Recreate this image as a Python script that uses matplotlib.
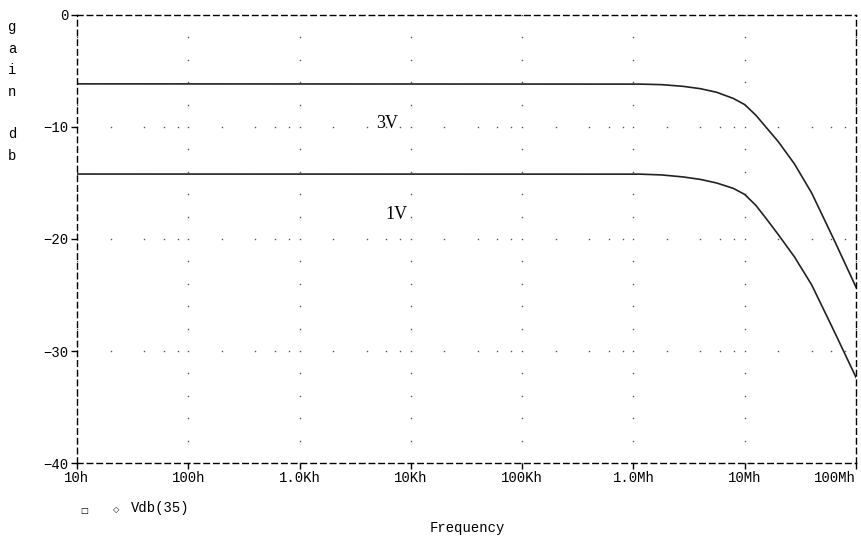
import matplotlib.pyplot as plt
import numpy as np

# frequency points (Hz) and gain in dB
freq = [10, 1.15e6, 1.8e6, 2.8e6, 4e6, 5.6e6, 7.9e6, 1e7, 1.26e7, 1.58e7,
        2e7, 2.8e7, 4e7, 6.3e7, 1e8]
gain_3v = [-6.15, -6.17, -6.22, -6.37, -6.58, -6.9, -7.45, -8.0, -8.95, -10.1,
           -11.3, -13.3, -15.9, -20.0, -24.3]
gain_1v = [-14.2, -14.21, -14.28, -14.46, -14.68, -15.0, -15.48, -16.02, -17.0, -18.25,
           -19.6, -21.6, -24.1, -28.15, -32.35]

xticks = [10, 100, 1e3, 1e4, 1e5, 1e6, 1e7, 1e8]
xticklabels = ['10h', '100h', '1.0Kh', '10Kh', '100Kh', '1.0Mh', '10Mh', '100Mh']
yticks = [0, -10, -20, -30, -40]

mono = 'Liberation Mono'

fig = plt.figure(figsize=(8.62, 5.47), dpi=100)
ax = fig.add_axes([77 / 862, 1 - 463 / 547, 779 / 862, 448 / 547])
ax.set_xscale('log')
ax.set_xlim(10, 1e8)
ax.set_ylim(-40, 0)

# dotted grid, PSpice style
gx, gy = [], []
for d in xticks:
    for yv in np.arange(-40, 1, 2):
        gx.append(d)
        gy.append(yv)
for yv in [-10, -20, -30]:
    for d in xticks[:-1]:
        for m in [2, 4, 6, 8]:
            gx.append(d * m)
            gy.append(yv)
ax.plot(gx, gy, ls='none', marker='s', ms=1.0, mew=0, color='#555555')

ax.plot(freq, gain_3v, color='#222222', lw=1.2)
ax.plot(freq, gain_1v, color='#222222', lw=1.2)

ax.text(6.1e3, -9.7, '3V', family='Liberation Serif', fontsize=13, ha='center', va='center')
ax.text(7.5e3, -17.8, '1V', family='Liberation Serif', fontsize=13, ha='center', va='center')

for s in ax.spines.values():
    s.set_linestyle((0, (4, 3)))
    s.set_linewidth(1.0)

ax.set_xticks(xticks)
ax.set_xticklabels(xticklabels, family=mono, fontsize=10)
ax.get_xticklabels()[-1].set_horizontalalignment('right')
ax.minorticks_off()
ax.set_yticks(yticks)
ax.set_yticklabels(['0', '\u221210', '\u221220', '\u221230', '\u221240'], family=mono, fontsize=10)
ax.tick_params(direction='out', length=4, width=1, pad=2)

# vertical y label "gain db"
for i, ch in enumerate('gain'):
    fig.text(12 / 862, 1 - (27 + 21.7 * i) / 547, ch, family=mono, fontsize=10, ha='center', va='center')
for i, ch in enumerate('db'):
    fig.text(12 / 862, 1 - (134 + 21.7 * i) / 547, ch, family=mono, fontsize=10, ha='center', va='center')

# legend line
fig.text(84 / 862, 1 - 510 / 547, '\u25a1', fontsize=6, ha='center', va='center')
fig.text(116 / 862, 1 - 510 / 547, '\u25c7', fontsize=6, ha='center', va='center')
fig.text(131 / 862, 1 - 508 / 547, 'Vdb(35)', family=mono, fontsize=10, ha='left', va='center')

fig.text(467 / 862, 1 - 528 / 547, 'Frequency', family=mono, fontsize=10, ha='center', va='center')

fig.savefig('out.png', dpi=100)
